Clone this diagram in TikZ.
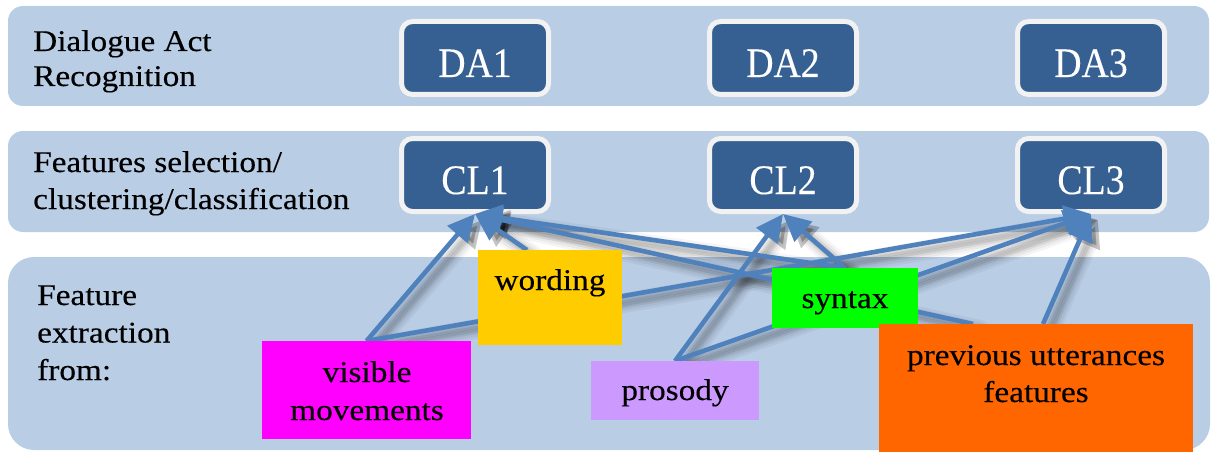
\documentclass[tikz,border=0pt]{standalone}
\usepackage{fontspec}
\setmainfont{Liberation Serif}[FakeStretch=1.11, FakeBold=0.25]
\newfontfamily\boxfont{Liberation Serif}[FakeStretch=0.9, FakeBold=0.2]
\usetikzlibrary{arrows.meta,calc}

\definecolor{bandblue}{HTML}{B9CDE5}
\definecolor{boxblue}{HTML}{366092}
\definecolor{boxrim}{HTML}{F2F2F2}
\definecolor{linkblue}{HTML}{4F81BD}
\definecolor{wordingc}{HTML}{FFCC00}
\definecolor{syntaxc}{HTML}{00FF00}
\definecolor{prosodyc}{HTML}{CC99FF}
\definecolor{visiblec}{HTML}{FF00FF}
\definecolor{prevc}{HTML}{FF6600}

\pgfdeclarelayer{bands}
\pgfdeclarelayer{stages}
\pgfdeclarelayer{shadows}
\pgfdeclarelayer{links}
\pgfsetlayers{bands,stages,shadows,links,main}

\begin{document}
\begin{tikzpicture}[x=1pt,y=-1pt,
  band/.style={fill=bandblue, rounded corners=15pt},
  stagebox/.style={draw=boxrim, line width=5pt, fill=boxblue,
    rounded corners=11pt, minimum width=147pt, minimum height=73pt,
    inner sep=0pt, outer sep=0pt, text=white,
    font=\boxfont\fontsize{42}{42}\selectfont,
    text height=38pt, text depth=0pt},
  rowlabel/.style={anchor=base west, inner sep=0pt,
    font=\fontsize{30}{37}\selectfont},
  featbox/.style={rectangle, inner sep=0pt, outer sep=0pt},
  feattext/.style={anchor=base, inner sep=0pt,
    font=\fontsize{30}{37}\selectfont},
  link/.style={draw=linkblue, fill=linkblue, line width=4.6pt,
    -{Triangle[length=27pt,width=26pt]}},
  shadowline/.style={draw=black, fill=black, line join=round,
    line cap=round, -{Triangle[length=27pt,width=26pt]}},
]
\useasboundingbox (0,0) rectangle (1211,452);

% three horizontal stages
\begin{pgfonlayer}{bands}
  \fill[band] (8,6) rectangle (1209,106);
  \fill[band] (8,131) rectangle (1209,232);
  \fill[band, rounded corners=26pt] (8,257) rectangle (1210,450);
\end{pgfonlayer}

% stage labels
\node[rowlabel, font=\fontsize{30}{35}\selectfont] (lblda) at (33,51)
  {\begin{tabular}[t]{@{}l@{}}Dialogue Act\\Recognition\end{tabular}};
\node[rowlabel] (lblcl) at (33,172)
  {\begin{tabular}[t]{@{}l@{}}Features selection/\\clustering/classification\end{tabular}};
\node[rowlabel, font=\fontsize{30}{37.5}\selectfont] (lblfe) at (37,305)
  {\begin{tabular}[t]{@{}l@{}}Feature\\extraction\\from:\end{tabular}};

% dialogue acts and classifiers
\begin{pgfonlayer}{stages}
  \node[stagebox] (da1) at (475,58) {DA1};
  \node[stagebox] (da2) at (783,58) {DA2};
  \node[stagebox] (da3) at (1091,58) {DA3};
  \node[stagebox] (cl1) at (475,175) {CL1};
  \node[stagebox] (cl2) at (783,175) {CL2};
  \node[stagebox] (cl3) at (1091,175) {CL3};
\end{pgfonlayer}

% feature sources
\node[featbox, fill=wordingc, minimum width=144pt, minimum height=95pt] (wording) at (550,297.5) {};
\node[featbox, fill=visiblec, minimum width=209pt, minimum height=98pt] (visible) at (366.5,390) {};
\node[featbox, fill=prosodyc, minimum width=168pt, minimum height=59pt] (prosody) at (675,390.5) {};
\node[featbox, fill=syntaxc, minimum width=146pt, minimum height=60pt] (syntax) at (845,298) {};
\node[featbox, fill=prevc, minimum width=314pt, minimum height=128pt] (prev) at (1036,388) {};

\node[feattext] (wordingtxt) at (550,290) {wording};
\node[feattext, font=\fontsize{30}{38}\selectfont] (visibletxt) at (367,382)
  {\begin{tabular}[t]{@{}c@{}}visible\\movements\end{tabular}};
\node[feattext] (prosodytxt) at (675,400) {prosody};
\node[feattext] (syntaxtxt) at (845,308) {syntax};
\node[feattext] (prevtxt) at (1036,365)
  {\begin{tabular}[t]{@{}c@{}}previous utterances\\features\end{tabular}};

% attachment points of the connectors
\coordinate (wordingout) at ([xshift=-23pt]wording.north);
\coordinate (prevoutA) at ([xshift=-63pt]prev.north);
\coordinate (prevoutB) at ([xshift=7pt]prev.north);
\coordinate (cl1in) at ([yshift=-2.5pt]cl1.south);
\coordinate (cl2in) at ([yshift=-2.5pt]cl2.south);
\coordinate (cl3in) at ([yshift=-2.5pt]cl3.south);

% connectors from features to classifiers, each with a soft shadow
\foreach \src/\dst in {
    visible.north/cl1in,
    visible.north/cl3in,
    wordingout/cl1in,
    syntax.north/cl1in,
    syntax.north/cl2in,
    prosody.north/cl2in,
    prosody.north/cl3in,
    prevoutA/cl1in,
    prevoutB/cl3in} {
  \begin{pgfonlayer}{shadows}
    \foreach \w/\o in {20/0.04, 15/0.05, 10/0.07, 6/0.09}
      \draw[shadowline, line width=\w pt, opacity=\o]
        ([shift={(7pt,-6pt)}]\src) -- ([shift={(7pt,-6pt)}]\dst);
  \end{pgfonlayer}
  \begin{pgfonlayer}{links}
    \draw[link] (\src) -- (\dst);
  \end{pgfonlayer}
}
\end{tikzpicture}
\end{document}
